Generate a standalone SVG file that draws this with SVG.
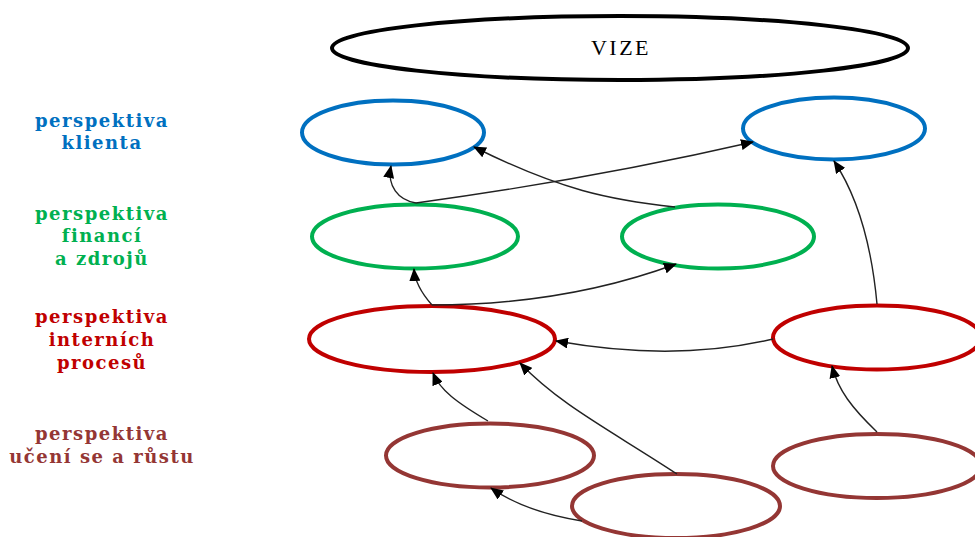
<svg xmlns="http://www.w3.org/2000/svg" width="975" height="537" viewBox="0 0 975 537">
  <style>
    .node { fill: none; stroke-width: 4; }
    .vize { stroke: #000000; }
    .klient { stroke: #0070C0; }
    .finance { stroke: #00B050; }
    .proces { stroke: #C00000; }
    .rust { stroke: #943634; }
    .edge { fill: none; stroke: #222222; stroke-width: 1.4; }
    .lbl { font-family: "DejaVu Serif", "Liberation Serif", serif; font-weight: bold; font-size: 18px; letter-spacing: 1.5px; text-anchor: middle; }
    .title { font-family: "Liberation Serif", "Times New Roman", serif; font-size: 22px; letter-spacing: 2.5px; text-anchor: middle; fill: #000000; }
  </style>
  <defs>
    <marker id="arrow" viewBox="0 0 13 11" refX="12" refY="5.5" markerWidth="13" markerHeight="11" markerUnits="userSpaceOnUse" orient="auto">
      <path d="M0,0 L13,5.5 L0,11 z" fill="#000000"/>
    </marker>
  </defs>

  <!-- perspective labels -->
  <g id="labels">
    <text class="lbl" fill="#0070C0" x="102" y="127">perspektiva</text>
    <text class="lbl" fill="#0070C0" x="102" y="149">klienta</text>
    <text class="lbl" fill="#00B050" x="102" y="220">perspektiva</text>
    <text class="lbl" fill="#00B050" x="102" y="242">financí</text>
    <text class="lbl" fill="#00B050" x="102" y="265">a zdrojů</text>
    <text class="lbl" fill="#C00000" x="102" y="323">perspektiva</text>
    <text class="lbl" fill="#C00000" x="102" y="346">interních</text>
    <text class="lbl" fill="#C00000" x="102" y="369">procesů</text>
    <text class="lbl" fill="#943634" x="102" y="440">perspektiva</text>
    <text class="lbl" fill="#943634" x="102" y="463">učení se a růstu</text>
  </g>

  <!-- vision -->
  <g id="vize">
    <ellipse class="node vize" cx="620" cy="48" rx="288" ry="32"/>
    <text class="title" x="621" y="55">VIZE</text>
  </g>

  <!-- customer perspective -->
  <g id="klient1"><ellipse class="node klient" cx="393" cy="132.5" rx="91" ry="32"/></g>
  <g id="klient2"><ellipse class="node klient" cx="834" cy="128.5" rx="91" ry="31"/></g>

  <!-- financial perspective -->
  <g id="finance1"><ellipse class="node finance" cx="415" cy="236.5" rx="103" ry="32"/></g>
  <g id="finance2"><ellipse class="node finance" cx="718" cy="236.5" rx="96" ry="32"/></g>

  <!-- internal processes -->
  <g id="proces1"><ellipse class="node proces" cx="432" cy="339" rx="123" ry="33"/></g>
  <g id="proces2"><ellipse class="node proces" cx="877" cy="337.5" rx="104" ry="32"/></g>

  <!-- learning and growth -->
  <g id="rust1"><ellipse class="node rust" cx="490" cy="455.5" rx="104" ry="32"/></g>
  <g id="rust2"><ellipse class="node rust" cx="676" cy="506" rx="104" ry="32"/></g>
  <g id="rust3"><ellipse class="node rust" cx="877" cy="466" rx="104" ry="32"/></g>

  <!-- cause-and-effect links -->
  <g id="connectors">
    <path class="edge" marker-end="url(#arrow)" d="M416,203 C398,200 387,186 391,166"/>
    <path class="edge" marker-end="url(#arrow)" d="M416,203 C540,186 640,168 753,142"/>
    <path class="edge" marker-end="url(#arrow)" d="M675,207 C610,200 560,190 474,147"/>
    <path class="edge" marker-end="url(#arrow)" d="M432,305 C424,296 415,284 414,269"/>
    <path class="edge" marker-end="url(#arrow)" d="M432,305 C520,305 600,292 676,264"/>
    <path class="edge" marker-end="url(#arrow)" d="M877,304 C872,250 860,200 834,161"/>
    <path class="edge" marker-end="url(#arrow)" d="M773,339 C700,356 630,354 556,341"/>
    <path class="edge" marker-end="url(#arrow)" d="M488,421 C456,402 440,390 433,373"/>
    <path class="edge" marker-end="url(#arrow)" d="M677,474 C610,430 560,405 520,363"/>
    <path class="edge" marker-end="url(#arrow)" d="M877,432 C852,408 838,390 832,366"/>
    <path class="edge" marker-end="url(#arrow)" d="M582,521 C545,515 515,505 491,488"/>
  </g>
</svg>
